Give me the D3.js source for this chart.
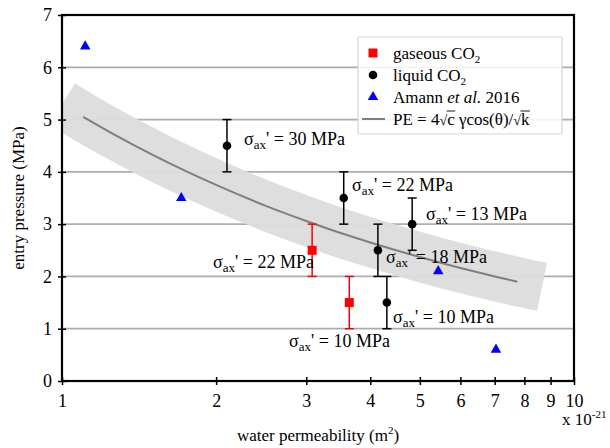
<!DOCTYPE html>
<html><head><meta charset="utf-8">
<script src="https://cdn.jsdelivr.net/npm/d3@7"></script>
<style>
body{margin:0;background:#fff;}
svg text{font-family:"Liberation Serif","Times New Roman",serif;fill:#000;}
</style></head>
<body><svg id="c" width="610" height="448"></svg>
<script>
// ---- data ----
const xTicks = [1,2,3,4,5,6,7,8,9,10];
const yTicks = [0,1,2,3,4,5,6,7];
const gasK = [3.08, 3.64];
const gasPE = [2.5, 1.5];
const gasLo = [2.0, 1.0];
const gasHi = [3.0, 2.0];
const liqK = [2.10, 3.55, 4.14, 4.83, 4.31];
const liqPE = [4.5, 3.5, 2.5, 3.0, 1.5];
const liqLo = [4.0, 3.0, 2.0, 2.5, 1.0];
const liqHi = [5.0, 4.0, 3.0, 3.5, 2.0];
const amannK = [1.11, 1.71, 5.43, 7.04];
const amannPE = [6.4, 3.5, 2.1, 0.6];
const fitK = [1.1, 1.25, 1.5, 2, 2.5, 3, 3.5, 4, 5, 6, 7, 7.75];
const fitPE = [5.05, 4.74, 4.33, 3.75, 3.35, 3.06, 2.83, 2.65, 2.37, 2.16, 2.00, 1.90];
const bandK = [1, 1.1, 1.25, 1.5, 2, 2.5, 3, 3.5, 4, 5, 6, 7, 7.75, 8.66];
const bandPE = [5.30, 5.05, 4.74, 4.33, 3.75, 3.35, 3.06, 2.83, 2.65, 2.37, 2.16, 2.00, 1.90, 1.80];
const annotLabel = ["30", "22", "13", "18", "10", "22", "10"];
const legendLabels = ["gaseous CO", "liquid CO", "Amann ", "PE = 4"];

// ---- layout ----
const svg = d3.select("#c");
const L = 62, R = 574, T = 15, B = 381;
const x = d3.scaleLog().domain([1, 10]).range([L, R]);
const y = d3.scaleLinear().domain([0, 7]).range([B, T]);

svg.append("clipPath").attr("id", "clip")
  .append("rect").attr("x", L).attr("y", T).attr("width", R - L).attr("height", B - T);

// grid
svg.append("g").selectAll("line").data(yTicks.filter(d => d > 0 && d < 7)).join("line")
  .attr("x1", L).attr("x2", R).attr("y1", d => y(d)).attr("y2", d => y(d))
  .attr("stroke", "#adadad").attr("stroke-width", 1.8);

// band
const bandData = bandK.map((k, i) => [k, bandPE[i]]);
svg.append("path").datum(bandData)
  .attr("clip-path", "url(#clip)")
  .attr("d", d3.line().x(d => x(d[0])).y(d => y(d[1])).curve(d3.curveMonotoneX))
  .attr("fill", "none").attr("stroke", "#dcdcdc").attr("stroke-width", 49)
  .attr("stroke-linecap", "butt").attr("stroke-opacity", 0.95);

// fit curve
const fitData = fitK.map((k, i) => [k, fitPE[i]]);
svg.append("path").datum(fitData)
  .attr("d", d3.line().x(d => x(d[0])).y(d => y(d[1])).curve(d3.curveMonotoneX))
  .attr("fill", "none").attr("stroke", "#7f7f7f").attr("stroke-width", 2);

// error bars
function errbars(K, lo, hi, color) {
  const g = svg.append("g").attr("stroke", color).attr("stroke-width", 1.5);
  K.forEach((k, i) => {
    g.append("line").attr("x1", x(k)).attr("x2", x(k)).attr("y1", y(lo[i])).attr("y2", y(hi[i]));
    g.append("line").attr("x1", x(k) - 4.5).attr("x2", x(k) + 4.5).attr("y1", y(lo[i])).attr("y2", y(lo[i]));
    g.append("line").attr("x1", x(k) - 4.5).attr("x2", x(k) + 4.5).attr("y1", y(hi[i])).attr("y2", y(hi[i]));
  });
}
errbars(gasK, gasLo, gasHi, "#ff0000");
errbars(liqK, liqLo, liqHi, "#000");

// markers
svg.append("g").selectAll("rect").data(gasK.map((k, i) => [k, gasPE[i]])).join("rect")
  .attr("x", d => x(d[0]) - 4.5).attr("y", d => y(d[1]) - 4.5).attr("width", 9).attr("height", 9)
  .attr("fill", "#ff0000");
svg.append("g").selectAll("circle").data(liqK.map((k, i) => [k, liqPE[i]])).join("circle")
  .attr("cx", d => x(d[0])).attr("cy", d => y(d[1])).attr("r", 4.3).attr("fill", "#000");
const tri = d3.symbol().type(d3.symbolTriangle).size(48);
svg.append("g").selectAll("path").data(amannK.map((k, i) => [k, amannPE[i]])).join("path")
  .attr("transform", d => `translate(${x(d[0])},${y(d[1])})`).attr("d", tri).attr("fill", "#0000ff");

// annotations
const annotPos = [[244, 145], [352, 191], [426, 220], [386, 263], [393, 323], [213, 268], [289, 347]];
annotLabel.forEach((lab, i) => {
  const t = svg.append("text").attr("x", annotPos[i][0]).attr("y", annotPos[i][1]).attr("font-size", 18);
  t.append("tspan").text("σ");
  t.append("tspan").attr("font-size", 13).attr("dy", 4).text("ax");
  t.append("tspan").attr("dy", -4).text("' = " + lab + " MPa");
});

// frame
svg.append("rect").attr("x", L).attr("y", T).attr("width", R - L).attr("height", B - T)
  .attr("fill", "none").attr("stroke", "#000").attr("stroke-width", 2.2);

// x axis
const xa = svg.append("g").attr("transform", `translate(0,${B})`)
  .call(d3.axisBottom(x).tickValues(xTicks).tickFormat(d3.format("d")).tickSize(4).tickPadding(6));
xa.select(".domain").remove();
xa.selectAll(".tick line").attr("y1", -4).attr("y2", 4).attr("stroke-width", 1.5);
xa.selectAll(".tick text").attr("font-size", 18).attr("dy", "0.9em");

// y axis
const ya = svg.append("g").attr("transform", `translate(${L},0)`)
  .call(d3.axisLeft(y).tickValues(yTicks).tickFormat(d3.format("d")).tickSize(4).tickPadding(6));
ya.select(".domain").remove();
ya.selectAll(".tick line").attr("x1", -4).attr("x2", 4).attr("stroke-width", 1.5);
ya.selectAll(".tick text").attr("font-size", 18);

// axis titles
const xt = svg.append("text").attr("x", 318).attr("y", 441).attr("text-anchor", "middle").attr("font-size", 17);
xt.append("tspan").text("water permeability (m");
xt.append("tspan").attr("font-size", 11).attr("dy", -7).text("2");
xt.append("tspan").attr("dy", 7).text(")");

const sc = svg.append("text").attr("x", 562).attr("y", 425).attr("font-size", 17);
sc.append("tspan").text("x 10");
sc.append("tspan").attr("font-size", 11).attr("dy", -7).text("-21");

svg.append("text").attr("transform", "translate(24,198) rotate(-90)")
  .attr("text-anchor", "middle").attr("font-size", 17).text("entry pressure (MPa)");

// legend
const lg = svg.append("g");
lg.append("rect").attr("x", 358).attr("y", 37).attr("width", 204).attr("height", 97)
  .attr("fill", "#fff").attr("fill-opacity", 0.85).attr("stroke", "#d6d6d6").attr("stroke-width", 1.2).attr("rx", 1.5);
const rowY = [53, 75, 97, 119];
const mx = 373, tx = 393;
lg.append("rect").attr("x", mx - 4.5).attr("y", rowY[0] - 4.5).attr("width", 9).attr("height", 9).attr("fill", "#ff0000");
lg.append("circle").attr("cx", mx).attr("cy", rowY[1]).attr("r", 4.3).attr("fill", "#000");
lg.append("path").attr("transform", `translate(${mx},${rowY[2]})`).attr("d", tri).attr("fill", "#0000ff");
lg.append("line").attr("x1", 362).attr("x2", 385).attr("y1", rowY[3]).attr("y2", rowY[3])
  .attr("stroke", "#7f7f7f").attr("stroke-width", 2);

[0, 1].forEach(i => {
  const t = lg.append("text").attr("x", tx).attr("y", rowY[i] + 5.5).attr("font-size", 17);
  t.append("tspan").text(legendLabels[i]);
  t.append("tspan").attr("font-size", 11).attr("dy", 4).text("2");
});
const t3 = lg.append("text").attr("x", tx).attr("y", rowY[2] + 5.5).attr("font-size", 17);
t3.append("tspan").text(legendLabels[2]);
t3.append("tspan").attr("font-style", "italic").text("et al.");
t3.append("tspan").text(" 2016");

// formula with overlines over c and k
const fy = rowY[3] + 5.5;
let cx = tx;
function piece(str, opts) {
  const t = lg.append("text").attr("x", cx).attr("y", fy).attr("font-size", opts && opts.size || 17)
    .style("white-space", "pre").text(str);
  const w = t.node().getComputedTextLength();
  if (opts && opts.over) {
    lg.append("line").attr("x1", cx - 0.5).attr("x2", cx + w + 0.5).attr("y1", fy - 13.5).attr("y2", fy - 13.5)
      .attr("stroke", "#000").attr("stroke-width", 0.9);
  }
  cx += w;
  return w;
}
piece(legendLabels[3]);
piece("√", {size: 14});
piece("c", {over: true});
piece("\u00A0γcos(θ)/");
piece("√", {size: 14});
piece("k", {over: true});
</script></body></html>
